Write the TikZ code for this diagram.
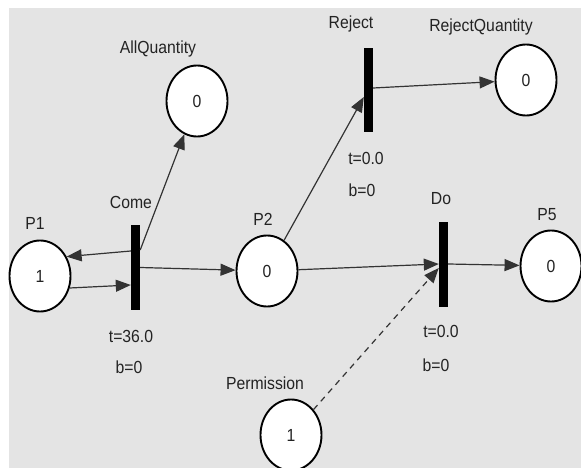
\documentclass[tikz,border=0pt]{standalone}
\usepackage{graphicx}
\usepackage{fontspec}
\setmainfont{Liberation Sans}
\usetikzlibrary{arrows.meta,calc,shapes.geometric}
\newcommand{\lblfont}{\fontsize{17.5}{19}\selectfont}
\newcommand{\sq}[1]{\scalebox{0.9}[1]{#1}}
\definecolor{bggray}{RGB}{228,228,228}
\definecolor{txtgray}{RGB}{35,35,35}
\begin{document}
\begin{tikzpicture}[x=1pt,y=-1pt,
  place/.style={ellipse, draw=black, line width=1.9pt, fill=white, minimum width=61pt, minimum height=71pt, inner sep=0pt, font=\lblfont, text=txtgray},
  trans/.style={rectangle, fill=black, minimum width=9pt, minimum height=85pt, inner sep=0pt},
  lbl/.style={font=\lblfont, text=txtgray, inner sep=0pt},
  arc/.style={line width=1.2pt, draw=black!80, -{Triangle[length=15pt,width=12pt]}},
]
\useasboundingbox (0,0) rectangle (581,468);
\clip (0,0) rectangle (581,468);
\fill[bggray] (9,8) rectangle (581,468);

% places
\node[place] (p1) at (40,276) {\sq{1}};
\node[lbl] (p1l) at (35,223) {\sq{P1}};
\node[place] (allq) at (197,101) {\sq{0}};
\node[lbl] (allql) at (158,49) {\sq{AllQuantity}};
\node[place] (p2) at (267,271) {\sq{0}};
\node[lbl] (p2l) at (263,219) {\sq{P2}};
\node[place] (rq) at (526,80) {\sq{0}};
\node[lbl] (rql) at (481,27) {\sq{RejectQuantity}};
\node[place] (p5) at (551,266) {\sq{0}};
\node[lbl] (p5l) at (547,215) {\sq{P5}};
\node[place] (perm) at (291,435) {\sq{1}};
\node[lbl] (perml) at (265,383) {\sq{Permission}};

% transitions
\node[trans] (come) at (135.5,267.5) {};
\node[lbl] (comel) at (131,202) {\sq{Come}};
\node[lbl] (comet) at (131,336) {\sq{t=36.0}};
\node[lbl] (comeb) at (129,367) {\sq{b=0}};
\node[trans, minimum height=84pt] (reject) at (368.5,90) {};
\node[lbl] (rejectl) at (351,24) {\sq{Reject}};
\node[lbl] (rejectt) at (366,158) {\sq{t=0.0}};
\node[lbl] (rejectb) at (362,190) {\sq{b=0}};
\node[trans] (do) at (443.5,264) {};
\node[lbl] (dol) at (441,199) {\sq{Do}};
\node[lbl] (dot) at (441,331) {\sq{t=0.0}};
\node[lbl] (dob) at (436,365) {\sq{b=0}};

% arcs
\draw[arc] ($(come.west)+(0,-16.5)$) -- (p1.36);
\draw[arc] (p1.-22) -- ($(come.west)+(0,17.5)$);
\draw[arc] ($(come.east)+(0,-17.5)$) -- (allq);
\draw[arc] (come.east) -- (p2);
\draw[arc] (p2) -- ($(reject.west)+(0,7)$);
\draw[arc] ($(reject.east)+(0,-2)$) -- (rq);
\draw[arc] (p2) -- (do.west);
\draw[arc, dash pattern=on 6pt off 5pt] (perm) -- ($(do.west)+(0,4)$);
\draw[arc] (do.east) -- (p5);
\end{tikzpicture}
\end{document}
